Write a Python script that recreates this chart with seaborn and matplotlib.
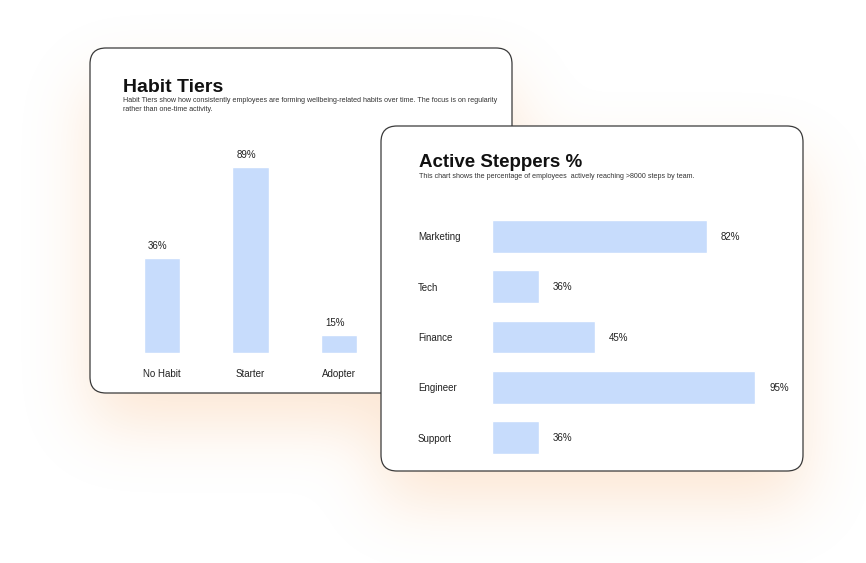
import numpy as np
import pandas as pd
import seaborn as sns
import matplotlib
matplotlib.use("Agg")
import matplotlib.pyplot as plt
from matplotlib.patches import FancyBboxPatch

# Data

tier_names = ["No Habit", "Starter", "Adopter"]
tier_bar = [45.5, 89, 8.6]          # bar heights as drawn (0-100 axis)
tier_labels = ["36%", "89%", "15%"]

team_names = ["Marketing", "Tech", "Finance", "Engineer", "Support"]
team_bar = [77.6, 17, 37.2, 95, 17]  # bar lengths as drawn (0-100 axis)
team_labels = ["82%", "36%", "45%", "95%", "36%"]

habit_title = "Habit Tiers"
habit_sub = [
    "Habit Tiers show how consistently employees are forming wellbeing-related habits over time. The focus is on regularity",
    "rather than one-time activity.",
]
step_title = "Active Steppers %"
step_sub = "This chart shows the percentage of employees  actively reaching >8000 steps by team."

BLUE = "#C7DCFC"
INK = "#222222"
W, H = 866, 563

sns.set_theme(style="white")
plt.rcParams["font.family"] = ["Liberation Sans", "DejaVu Sans"]

fig = plt.figure(figsize=(W / 100, H / 100), dpi=100)
fig.patch.set_facecolor("white")


def px_axes(x0, y0, x1, y1, z):
    return fig.add_axes([x0 / W, 1 - y1 / H, (x1 - x0) / W, (y1 - y0) / H], zorder=z)


def blur(a, s):
    t = np.arange(-3 * s, 3 * s + 1)
    k = np.exp(-0.5 * (t / s) ** 2)
    k /= k.sum()
    a = np.apply_along_axis(lambda r: np.convolve(r, k, mode="same"), 0, a)
    a = np.apply_along_axis(lambda r: np.convolve(r, k, mode="same"), 1, a)
    return a


def card(ax, x0, y0, x1, y1):
    ax.add_patch(FancyBboxPatch((x0, y0), x1 - x0, y1 - y0,
                                boxstyle="round,pad=0,rounding_size=16",
                                fc="white", ec="#3a3a3a", lw=0.9, zorder=1))


cards = [(90, 48, 512, 393), (381, 126, 803, 471)]

# soft orange glow behind the cards, pushed a little downwards
yy, xx = np.mgrid[0:H, 0:W]
mask = np.zeros((H, W))
for x0, y0, x1, y1 in cards:
    mask[(xx >= x0) & (xx <= x1) & (yy >= y0 + 35) & (yy <= y1 + 30)] = 1
glow = np.zeros((H, W, 4))
glow[..., 0], glow[..., 1], glow[..., 2] = 245 / 255, 165 / 255, 95 / 255
glow[..., 3] = 0.27 * blur(mask, 32)

bg = fig.add_axes([0, 0, 1, 1], zorder=0)
bg.imshow(glow, extent=(0, W, H, 0), aspect="auto", zorder=0)
bg.set_xlim(0, W)
bg.set_ylim(H, 0)
bg.axis("off")
card(bg, *cards[0])
bg.text(123, 91.5, habit_title, fontsize=14, weight="bold", color="#111111", va="baseline", zorder=2)
bg.text(123, 100.5, habit_sub[0], fontsize=5.1, color="#333333", va="center", zorder=2)
bg.text(123, 109.5, habit_sub[1], fontsize=5.1, color="#333333", va="center", zorder=2)

# left chart: vertical bars
ax1 = px_axes(117.75, 144, 471.75, 352.7, 1)
df1 = pd.DataFrame({"tier": tier_names, "value": tier_bar})
sns.barplot(data=df1, x="tier", y="value", color=BLUE, saturation=1, width=0.407, ax=ax1)
ax1.set_xlim(-0.5, 3.5)
ax1.set_ylim(0, 100)
ax1.set_xlabel("")
ax1.set_ylabel("")
ax1.set_yticks([])
ax1.tick_params(axis="x", length=0, pad=11.5, labelsize=7, labelcolor=INK)
sns.despine(ax=ax1, left=True, bottom=True)
ax1.patch.set_alpha(0)
for i, (v, lbl) in enumerate(zip(tier_bar, tier_labels)):
    ax1.annotate(lbl, (i, v), xytext=(-3, 8.6), textcoords="offset points",
                 ha="center", va="center", fontsize=7, color=INK)

# right card on top
fg = fig.add_axes([0, 0, 1, 1], zorder=2)
fg.set_xlim(0, W)
fg.set_ylim(H, 0)
fg.axis("off")
card(fg, *cards[1])
fg.text(419, 167.3, step_title, fontsize=13.5, weight="bold", color="#111111", va="baseline", zorder=2)
fg.text(419, 176.5, step_sub, fontsize=5.1, color="#333333", va="center", zorder=2)

# right chart: horizontal bars
ax2 = px_axes(492, 211.1, 769, 462.9, 3)
df2 = pd.DataFrame({"team": team_names, "value": team_bar})
sns.barplot(data=df2, x="value", y="team", orient="h", color=BLUE, saturation=1, width=0.645, ax=ax2)
ax2.set_xlim(0, 100)
ax2.set_ylim(4.5, -0.5)
ax2.set_xlabel("")
ax2.set_ylabel("")
ax2.set_xticks([])
ax2.tick_params(axis="y", length=0, pad=53.3, labelsize=7, labelcolor=INK)
for t in ax2.get_yticklabels():
    t.set_ha("left")
sns.despine(ax=ax2, left=True, bottom=True)
ax2.patch.set_alpha(0)
for i, (v, lbl) in enumerate(zip(team_bar, team_labels)):
    ax2.annotate(lbl, (v, i), xytext=(10, -0.5), textcoords="offset points",
                 ha="left", va="center", fontsize=7, color=INK)

fig.savefig("out.png", dpi=100, facecolor="white")
